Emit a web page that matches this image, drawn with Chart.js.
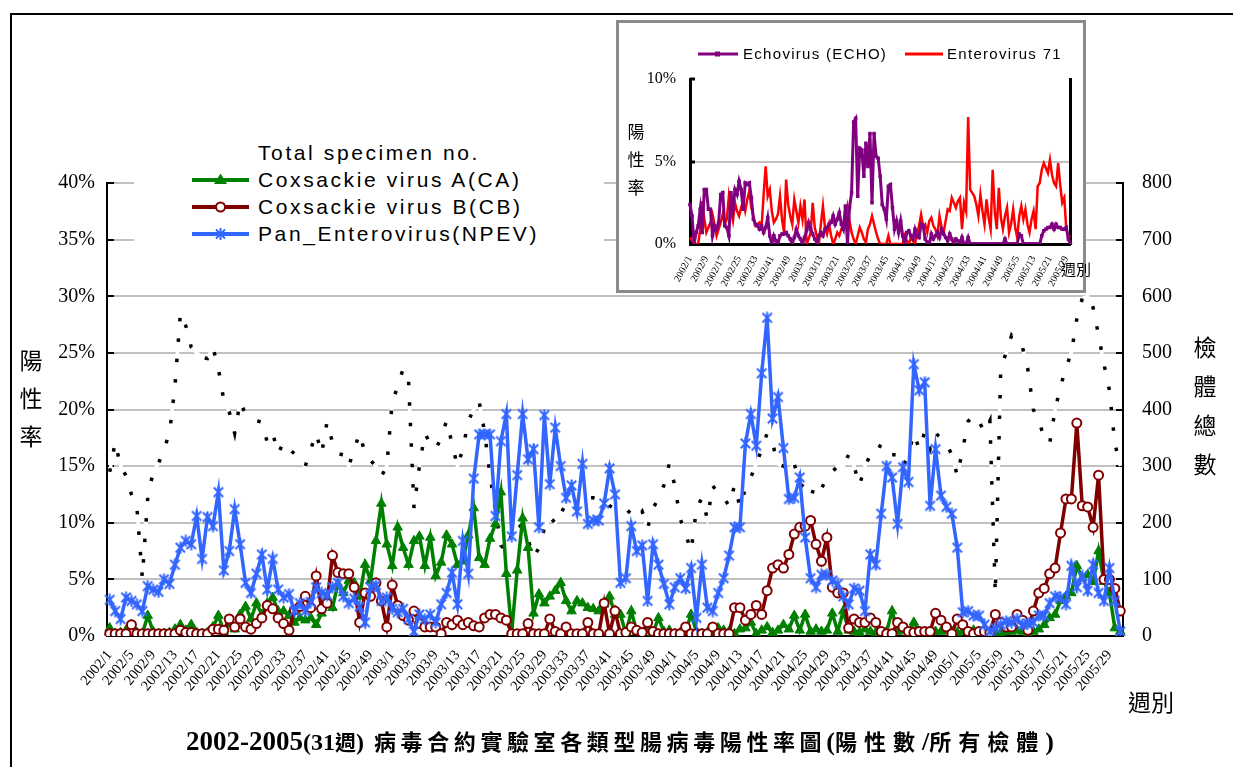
<!DOCTYPE html>
<html><head><meta charset="utf-8">
<script src="https://cdn.jsdelivr.net/npm/chart.js@4.4.0/dist/chart.umd.min.js"></script>
<style>
html,body{margin:0;padding:0;background:#fff;}
body{width:1233px;height:767px;position:relative;overflow:hidden;}
#frame{position:absolute;left:10px;top:13px;width:1300px;height:800px;border-left:2px solid #000;border-top:2px solid #000;box-sizing:border-box;}
#main{position:absolute;left:0;top:0;}
.cjk{font-family:"Noto Sans CJK TC",sans-serif;}
.serif{font-family:"Liberation Serif",serif;}
#legend{position:absolute;left:134px;top:135px;width:470px;height:122px;background:#fff;}
.li{position:absolute;left:0;height:26px;width:470px;}
.li svg{position:absolute;left:58px;top:0;}
.li span{position:absolute;left:124px;top:0;font-family:"Liberation Sans",Arial,sans-serif;font-size:21px;letter-spacing:2.6px;line-height:26px;color:#000;white-space:nowrap;}
#ytitle{position:absolute;left:18px;top:340px;width:26px;font-size:23px;line-height:38px;text-align:center;color:#000;}
#y2title{position:absolute;left:1192px;top:327px;width:26px;font-size:23px;line-height:39px;text-align:center;color:#000;}
#xtitle{position:absolute;left:1128px;top:684px;font-size:23px;color:#000;}
#title{position:absolute;left:186px;top:722px;white-space:nowrap;color:#000;line-height:36px;}
#insetBox{position:absolute;left:616px;top:20px;width:464px;height:267px;border:3px solid #8a8a8a;background:#fff;}
#inset{position:absolute;left:0;top:0;}
.ili{position:absolute;top:21px;height:20px;}
.ili span{position:absolute;top:0;font-family:"Liberation Sans",Arial,sans-serif;font-size:15px;letter-spacing:1.3px;line-height:20px;white-space:nowrap;color:#000;}
#iytitle{position:absolute;left:7px;top:94px;width:20px;font-size:17px;line-height:28px;text-align:center;color:#000;}
#ixtitle{position:absolute;left:1061px;top:258px;font-size:15px;color:#000;}
</style></head>
<body>
<div id="frame"></div>
<canvas id="main" width="1233" height="767"></canvas>

<div id="legend">
  <div class="li" style="top:5px"><span>Total specimen no.</span></div>
  <div class="li" style="top:32px"><svg width="60" height="26"><line x1="0" y1="13" x2="57" y2="13" stroke="#008000" stroke-width="4"/><polygon points="28.5,6.5 35,17 22,17" fill="#008000"/></svg><span>Coxsackie virus A(CA)</span></div>
  <div class="li" style="top:59px"><svg width="60" height="26"><line x1="0" y1="13" x2="57" y2="13" stroke="#800000" stroke-width="4"/><circle cx="28.5" cy="13" r="4.5" fill="#fff" stroke="#800000" stroke-width="2"/></svg><span>Coxsackie virus B(CB)</span></div>
  <div class="li" style="top:86px"><svg width="60" height="26"><line x1="0" y1="13" x2="57" y2="13" stroke="#3366FF" stroke-width="4"/><g stroke="#3366FF" stroke-width="2"><line x1="28.5" y1="7" x2="28.5" y2="19"/><line x1="24" y1="8.5" x2="33" y2="17.5"/><line x1="24" y1="17.5" x2="33" y2="8.5"/></g></svg><span>Pan_Enterovirus(NPEV)</span></div>
</div>

<div id="ytitle" class="cjk">陽<br>性<br>率</div>
<div id="y2title" class="cjk">檢<br>體<br>總<br>數</div>
<div id="xtitle" class="cjk">週別</div>
<div id="title"><span class="serif" style="font-weight:bold;font-size:27px">2002-2005</span><span class="serif" style="font-weight:bold;font-size:24px">(31</span><span class="cjk" style="font-weight:bold;font-size:21px">週</span><span class="serif" style="font-weight:bold;font-size:24px">)</span><span class="cjk" style="font-weight:bold;font-size:22px;letter-spacing:4.6px;margin-left:10px">病毒合約實驗室各類型腸病毒陽性率圖</span><span class="serif" style="font-weight:bold;font-size:26px">(</span><span class="cjk" style="font-weight:bold;font-size:22px;letter-spacing:7px">陽性數</span><span class="serif" style="font-weight:bold;font-size:26px">/</span><span class="cjk" style="font-weight:bold;font-size:22px;letter-spacing:7px">所有檢體</span><span class="serif" style="font-weight:bold;font-size:26px">)</span></div>

<div id="insetBox">
  <canvas id="inset" width="464" height="267"></canvas>
  <div class="ili" style="left:79px"><svg width="42" height="20" style="position:absolute;left:0;top:0"><line x1="0" y1="10" x2="40" y2="10" stroke="#800080" stroke-width="3"/><rect x="17" y="7.5" width="5" height="5" fill="#800080"/></svg><span style="left:45px">Echovirus (ECHO)</span></div>
  <div class="ili" style="left:286px"><svg width="42" height="20" style="position:absolute;left:0;top:0"><line x1="0" y1="10" x2="38" y2="10" stroke="#FF0000" stroke-width="3"/></svg><span style="left:42px">Enterovirus 71</span></div>
  <div id="iytitle" class="cjk">陽<br>性<br>率</div>
</div>
<div id="ixtitle" class="cjk">週別</div>

<script>
// ---- categories ----
const years = [2002, 2003, 2004, 2005];
const weeksInYear = [52, 52, 52, 31];
const weekLabels = [];
years.forEach((y, k) => { for (let w = 1; w <= weeksInYear[k]; w++) weekLabels.push(y + '/' + w); });

// ---- main chart series ----
const totalSpecimens = [
290,342,300,283,250,227,103,245,290,305,
330,358,440,570,548,510,500,492,490,510,
472,416,396,358,414,392,385,380,378,342,
358,322,342,330,322,310,300,330,358,322,
378,342,322,320,300,330,358,322,310,300,
282,300,414,440,472,452,226,300,358,340,
330,350,380,340,300,330,380,400,414,360,
283,220,160,150,180,200,190,170,140,155,
190,210,200,225,220,212,230,240,244,244,
240,240,230,225,225,225,215,207,220,191,
225,244,266,304,266,207,180,150,225,244,
207,266,250,244,230,266,228,260,280,304,
330,358,340,304,300,290,304,270,260,245,
270,260,280,290,300,300,320,300,266,300,
320,320,340,330,320,320,300,320,358,330,
360,330,358,350,340,320,283,330,379,390,
379,360,380,75,474,500,531,520,510,470,
400,380,350,340,400,440,474,500,560,596,
600,580,531,480,434,340,300];

const caRate = [
0.7,0.2,0.3,0.5,1.0,0.3,0.2,1.8,0.4,0.2,
0.2,0.3,0.6,1.0,0.5,1.0,0.3,0.2,0.3,0.8,
1.8,0.4,1.1,0.6,1.9,2.6,1.5,2.9,1.9,2.9,
3.4,2.2,2.2,1.8,1.2,1.6,1.4,1.6,1.0,2.0,
3.4,2.5,4.6,3.8,4.9,4.7,3.5,6.3,4.9,8.4,
11.7,8.1,6.2,9.6,7.8,6.3,8.4,8.8,6.2,8.7,
5.3,6.5,8.9,8.1,6.3,6.6,8.9,11.3,6.9,6.3,
8.6,9.9,12.7,5.5,0.4,5.8,10.4,7.8,2.0,3.7,
2.9,3.5,4.0,4.7,3.1,2.2,3.1,2.9,2.5,2.4,
2.2,2.8,3.5,1.9,1.9,0.2,2.2,0.4,0.2,0.5,
0.3,1.6,0.4,0.5,0.2,0.3,0.4,1.9,0.4,0.2,
0.3,0.3,0.7,0.5,0.4,0.2,0.6,0.7,1.2,0.2,
0.5,0.8,0.3,0.5,1.0,0.6,1.8,0.5,1.9,0.4,
0.6,0.4,0.5,2.0,0.4,2.2,0.5,0.4,0.3,0.6,
0.4,0.3,0.4,0.4,2.2,0.4,0.5,0.3,1.2,0.4,
0.3,0.4,0.4,0.4,0.5,0.4,0.3,0.4,0.4,0.5,
0.3,0.4,0.3,0.4,0.3,0.4,0.4,0.5,0.4,0.3,
0.4,0.6,1.0,1.6,1.9,3.1,3.5,3.8,6.2,5.1,
5.4,4.8,7.5,4.8,3.8,0.7,0.4];

const cbRate = [
0.2,0.2,0.2,0.2,1.0,0.2,0.2,0.2,0.2,0.2,
0.2,0.2,0.2,0.5,0.3,0.3,0.2,0.2,0.2,0.6,
0.6,0.5,1.5,0.8,1.5,0.8,0.6,1.1,1.6,2.7,
2.4,1.6,1.1,0.5,2.3,2.6,3.5,2.5,5.3,2.4,
2.9,7.1,5.6,5.5,5.5,4.3,1.2,3.8,3.5,4.7,
3.1,0.8,4.5,2.7,1.8,1.4,2.2,1.1,0.8,0.8,
0.8,0.2,1.2,1.0,1.4,1.0,1.2,0.9,0.8,1.6,
1.9,1.9,1.6,1.4,0.2,0.2,0.2,1.1,0.2,0.2,
0.2,1.5,0.4,0.2,0.8,0.2,0.2,0.2,1.2,0.2,
0.2,2.9,0.2,2.2,0.2,0.3,0.8,0.5,0.3,1.2,
0.4,0.2,0.2,0.2,0.2,0.2,0.8,0.2,0.2,0.2,
0.2,0.8,0.2,0.2,0.2,2.5,2.5,1.4,1.9,2.7,
1.9,4.0,6.0,6.3,6.0,7.2,9.0,9.6,9.7,10.2,
8.1,6.6,8.7,4.3,3.8,3.8,0.7,1.5,1.2,1.2,
1.6,1.2,0.4,0.2,0.2,1.2,0.8,0.4,0.3,0.4,
0.4,0.4,2.0,1.4,0.8,0.2,1.5,1.0,0.4,0.2,
0.4,0.4,0.3,1.9,1.2,0.8,0.8,1.9,1.4,0.5,
2.2,3.8,4.2,5.5,6.0,9.1,12.1,12.1,18.8,11.5,
11.4,9.6,14.2,5.0,5.0,4.2,2.2];

const npevRate = [
3.2,2.2,1.5,3.4,3.1,2.8,2.2,4.4,4.1,3.9,
5.0,4.6,6.3,7.8,8.4,8.1,10.6,6.8,10.5,9.7,
12.7,5.8,7.5,11.2,8.1,4.7,3.8,5.5,7.2,4.1,
6.8,4.1,3.4,3.7,2.2,2.9,2.2,3.0,4.3,3.8,
3.6,4.3,4.7,3.5,2.9,3.3,2.6,1.2,4.3,4.5,
3.1,3.4,2.4,2.1,2.4,1.5,0.4,1.9,1.5,1.9,
1.2,2.8,3.8,5.6,2.8,8.4,5.5,13.9,17.8,17.8,
17.8,10.6,17.2,19.6,8.8,14.2,19.6,15.6,16.5,9.6,
19.5,13.4,18.4,15.0,12.2,13.3,11.0,15.2,9.9,10.2,
10.2,11.7,14.8,12.5,4.7,5.1,9.7,7.5,8.0,3.1,
8.1,6.3,4.6,2.8,4.3,5.1,4.2,6.0,1.6,6.3,
2.5,2.2,3.8,5.1,7.1,9.6,9.6,17.0,19.6,16.8,
23.2,28.1,19.2,21.1,16.6,12.1,12.2,14.0,8.7,5.1,
4.3,5.4,5.4,4.9,4.6,3.5,2.8,4.2,4.0,2.2,
7.2,6.3,10.8,15.0,14.0,9.9,14.9,13.6,24.0,21.7,
22.4,11.5,16.5,12.4,11.4,10.8,7.8,2.1,2.2,1.8,
1.8,1.0,0.4,0.7,1.0,1.3,1.2,1.5,1.0,1.1,
1.2,1.8,1.8,2.9,3.5,3.4,2.8,6.2,4.3,5.3,
4.0,6.3,3.8,3.1,6.0,3.1,0.4];

// ---- inset series ----
const echoRate = [
2.4,1.7,0.0,0.7,1.1,2.1,0.7,3.3,3.3,2.1,
2.1,0.5,1.1,0.9,1.3,3.0,3.1,1.1,1.0,0.5,
3.1,2.1,3.3,3.0,3.8,3.3,2.1,3.7,3.6,3.7,
2.8,1.5,1.2,1.1,0.9,1.1,0.7,1.0,1.6,0.5,
0.0,0.5,0.2,0.0,0.5,0.6,0.6,0.7,0.5,0.3,
0.0,0.4,0.9,0.5,0.3,0.0,0.4,0.8,1.3,0.9,
0.6,0.3,0.1,0.5,0.7,0.5,0.9,1.0,1.2,1.3,
1.7,1.2,1.5,1.9,1.2,0.9,2.3,0.0,2.2,3.1,
7.4,7.6,2.9,5.8,5.7,4.1,6.1,4.7,6.7,2.5,
6.7,5.3,5.2,4.1,2.4,2.1,1.5,3.5,3.6,2.2,
0.9,1.4,0.7,1.4,0.5,0.0,0.7,0.8,0.5,0.3,
0.9,0.5,0.4,1.2,1.1,0.3,0.1,0.0,0.6,0.3,
0.5,0.7,0.4,0.9,0.6,0.4,0.2,0.6,0.3,0.0,
0.3,0.2,0.0,0.4,0.0,0.0,0.4,0.0,0.0,0.0,
0.0,0.0,0.0,0.0,0.0,0.0,0.0,0.0,0.0,0.0,
0.0,0.0,0.0,0.0,0.3,0.0,0.0,0.0,0.0,0.0,
0.0,0.6,0.5,0.0,0.0,0.0,0.0,0.0,0.0,0.0,
0.0,0.0,0.5,0.8,0.9,1.0,1.0,1.2,0.9,1.2,
1.0,1.0,0.9,0.9,1.0,0.3,0.0];

const ev71Rate = [
0.4,0.2,0.1,0.0,0.0,0.9,2.6,1.5,0.7,1.0,
1.3,1.8,1.2,0.5,0.9,1.3,1.8,1.2,1.5,2.9,
2.0,1.4,2.5,2.0,1.7,2.2,2.6,2.0,2.7,3.2,
2.2,1.7,1.1,1.2,1.3,1.0,3.0,4.7,2.9,3.3,
2.0,1.3,1.5,1.8,2.9,1.5,0.7,3.9,2.4,1.7,
1.2,2.7,2.0,1.3,2.3,1.5,2.7,0.0,0.3,0.7,
2.5,1.0,0.5,0.0,1.2,2.3,1.0,0.6,1.2,0.5,
0.0,0.3,0.7,0.5,0.9,1.2,1.7,2.3,1.4,0.7,
0.3,0.0,0.5,1.0,0.7,0.3,0.1,0.9,1.2,1.7,
1.2,0.7,0.3,0.0,0.0,0.0,0.0,0.5,0.0,0.0,
0.0,0.0,0.0,0.0,0.0,0.5,0.2,0.0,0.4,0.2,
0.0,0.6,1.1,1.8,1.1,1.2,0.7,1.4,1.6,1.1,
0.9,0.5,1.7,1.0,0.7,1.4,2.1,2.0,2.8,2.5,
2.2,2.6,2.8,0.9,2.5,2.0,7.7,3.3,3.1,2.9,
2.4,1.7,3.0,2.0,1.2,2.7,1.6,0.9,4.5,2.0,
0.9,3.4,1.6,0.9,1.7,2.2,0.7,1.2,2.1,1.0,
0.4,1.7,2.3,1.5,2.1,1.2,0.7,1.5,2.0,0.9,
3.5,3.7,4.5,4.9,4.6,4.3,5.1,4.2,3.7,3.5,
4.9,3.6,2.5,2.8,0.9,0.5,0.4];

const leftTicks = [0,5,10,15,20,25,30,35,40];
const rightTicks = [0,100,200,300,400,500,600,700,800];

// star marker (asterisk: X + vertical)
function makeStar(color, size, lw) {
  const c = document.createElement('canvas');
  c.width = size; c.height = size;
  const g = c.getContext('2d');
  g.strokeStyle = color; g.lineWidth = lw;
  const m = size / 2, r = size / 2 - 0.5, d = r * 0.78;
  g.beginPath();
  g.moveTo(m, m - r); g.lineTo(m, m + r);
  g.moveTo(m - d, m - d); g.lineTo(m + d, m + d);
  g.moveTo(m - d, m + d); g.lineTo(m + d, m - d);
  g.stroke();
  return c;
}
const starImg = makeStar('#3366FF', 13, 2);

const innerTicks = {
  id: 'innerTicks',
  beforeDatasetsDraw(chart, args, opts) {
    const ctx = chart.ctx, a = chart.chartArea;
    ctx.save();
    ctx.strokeStyle = '#000'; ctx.lineWidth = opts.width || 2;
    const len = opts.len || 7;
    (opts.axes || []).forEach(s => {
      const sc = chart.scales[s.id];
      s.values.forEach(v => {
        const y = Math.round(sc.getPixelForValue(v));
        ctx.beginPath();
        if (s.side === 'left') { ctx.moveTo(a.left, y); ctx.lineTo(a.left + len, y); }
        else { ctx.moveTo(a.right - len, y); ctx.lineTo(a.right, y); }
        ctx.stroke();
      });
    });
    ctx.restore();
  }
};

Chart.defaults.font.family = '"Liberation Serif", serif';
Chart.defaults.color = '#000';

new Chart(document.getElementById('main'), {
  type: 'line',
  data: {
    labels: weekLabels,
    datasets: [
      { label: 'Pan_Enterovirus(NPEV)', data: npevRate, yAxisID: 'y', borderColor: '#3366FF', borderWidth: 3.5,
        pointStyle: starImg, pointRadius: 6, pointBorderColor: '#3366FF', pointBackgroundColor: '#3366FF' },
      { label: 'Coxsackie virus B(CB)', data: cbRate, yAxisID: 'y', borderColor: '#800000', borderWidth: 3.5,
        pointStyle: 'circle', pointRadius: 4.5, pointBorderWidth: 2, pointBorderColor: '#800000', pointBackgroundColor: '#ffffff' },
      { label: 'Coxsackie virus A(CA)', data: caRate, yAxisID: 'y', borderColor: '#008000', borderWidth: 3.5,
        pointStyle: 'triangle', pointRadius: 5.5, pointBorderWidth: 1, pointBorderColor: '#008000', pointBackgroundColor: '#008000' },
      { label: 'Total specimen no.', data: totalSpecimens, yAxisID: 'y2', borderColor: '#000', borderWidth: 3.5,
        borderDash: [3.5, 17], pointRadius: 0, borderCapStyle: 'butt' },
      { label: 'Total specimen no. (gap)', data: totalSpecimens, yAxisID: 'y2', borderColor: '#ffffff', borderWidth: 3.5, pointRadius: 0 }
    ]
  },
  options: {
    responsive: false, animation: false, events: [],
    layout: { padding: { top: 183, left: 0, right: 0, bottom: 0 } },
    elements: { line: { tension: 0 } },
    plugins: {
      legend: { display: false }, tooltip: { enabled: false },
      innerTicks: { axes: [{ id: 'y', side: 'left', values: leftTicks }, { id: 'y2', side: 'right', values: rightTicks }] }
    },
    scales: {
      x: {
        offset: true,
        grid: { display: false },
        border: { display: true, color: '#000', width: 2 },
        ticks: { autoSkip: false, minRotation: 50, maxRotation: 50, padding: 3,
          font: { family: '"Liberation Serif", serif', size: 14.5 }, color: '#000',
          callback: (v, i) => (i % 4 === 0 ? weekLabels[i] : '') },
        afterFit: s => { s.height = 131; }
      },
      y: {
        position: 'left', min: 0, max: 40,
        ticks: { stepSize: 5, padding: 12, font: { family: '"Liberation Serif", serif', size: 20 }, color: '#000', callback: v => v + '%' },
        grid: { color: '#c0c0c0', lineWidth: 2, drawTicks: false },
        border: { color: '#000', width: 2 },
        afterFit: s => { s.width = 107; }
      },
      y2: {
        position: 'right', min: 0, max: 800,
        ticks: { stepSize: 100, padding: 19, font: { family: '"Liberation Serif", serif', size: 20 }, color: '#000' },
        grid: { drawOnChartArea: false, drawTicks: false },
        border: { color: '#000', width: 2 },
        afterFit: s => { s.width = 110; }
      }
    }
  },
  plugins: [innerTicks]
});

new Chart(document.getElementById('inset'), {
  type: 'line',
  data: {
    labels: weekLabels,
    datasets: [
      { label: 'Echovirus (ECHO)', data: echoRate, yAxisID: 'y', borderColor: '#800080', borderWidth: 3,
        pointStyle: 'rect', pointRadius: 2.5, pointBorderWidth: 0, pointBackgroundColor: '#800080' },
      { label: 'Enterovirus 71', data: ev71Rate, yAxisID: 'y', borderColor: '#FF0000', borderWidth: 2.5, pointRadius: 0 }
    ]
  },
  options: {
    responsive: false, animation: false, events: [],
    layout: { padding: { top: 56, left: 0, right: 0, bottom: 0 } },
    elements: { line: { tension: 0 } },
    plugins: {
      legend: { display: false }, tooltip: { enabled: false },
      innerTicks: { width: 3, len: 5, axes: [{ id: 'y', side: 'left', values: [0, 5, 10] }] }
    },
    scales: {
      x: {
        offset: false,
        grid: { display: false },
        border: { display: true, color: '#000', width: 3 },
        ticks: { autoSkip: false, minRotation: 62, maxRotation: 62, padding: 2,
          font: { family: '"Liberation Serif", serif', size: 10 }, color: '#000',
          callback: (v, i) => (i % 8 === 0 ? weekLabels[i] : '') },
        afterFit: s => { s.height = 46; }
      },
      y: {
        position: 'left', min: 0, max: 10,
        ticks: { stepSize: 5, padding: 14, font: { family: '"Liberation Serif", serif', size: 16 }, color: '#000', callback: v => v + '%' },
        grid: { color: c => (c.tick && c.tick.value === 5 ? '#c0c0c0' : 'rgba(0,0,0,0)'), lineWidth: 2, drawTicks: false },
        border: { color: '#000', width: 3 },
        afterFit: s => { s.width = 71; }
      },
      yR: {
        position: 'right', min: 0, max: 10,
        ticks: { display: false },
        grid: { drawOnChartArea: false, drawTicks: false },
        border: { color: '#000', width: 3 },
        afterFit: s => { s.width = 6; }
      }
    }
  },
  plugins: [innerTicks]
});
</script>
</body></html>
